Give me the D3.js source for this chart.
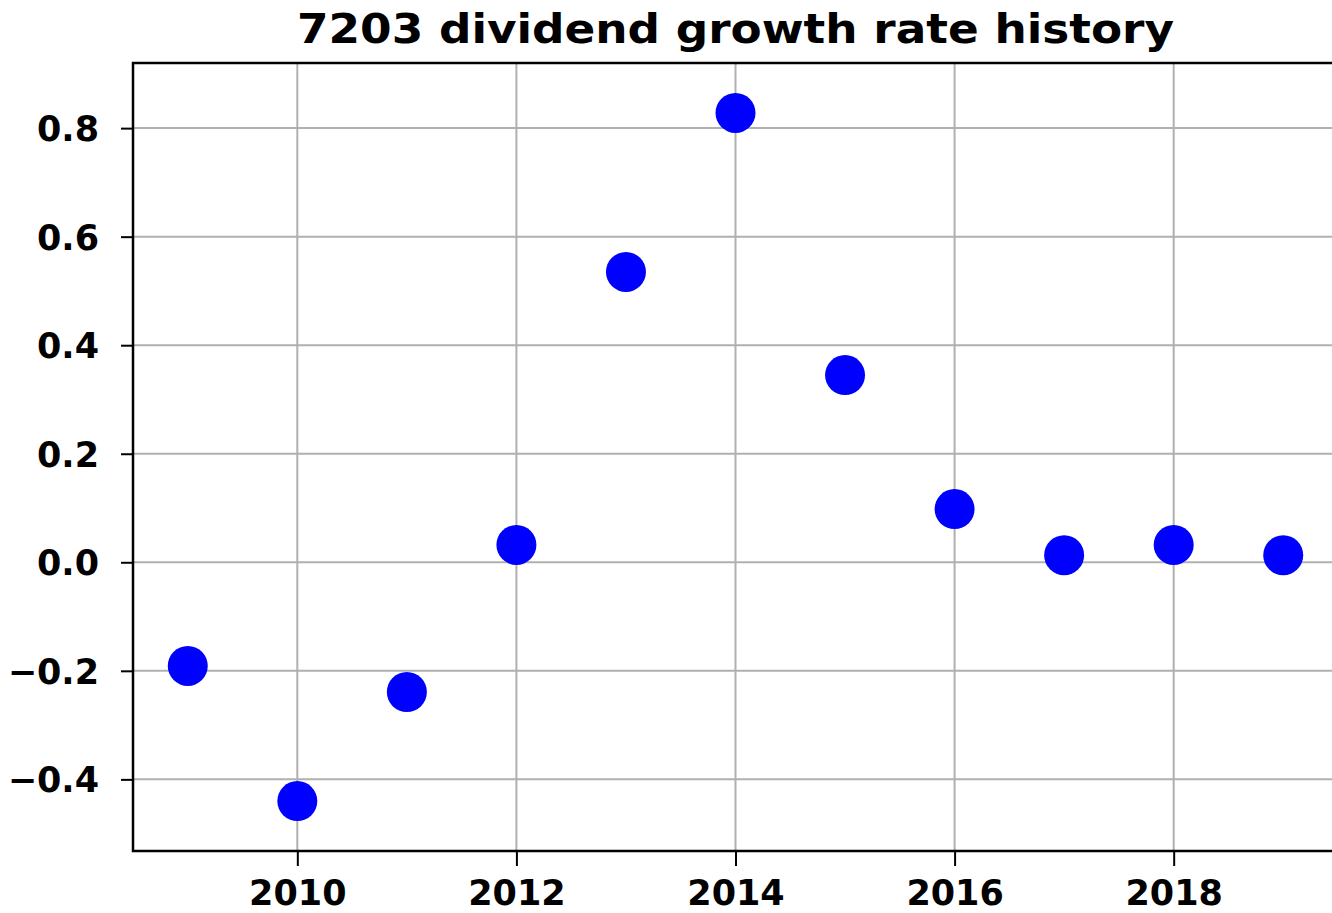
<!DOCTYPE html>
<html>
<head>
<meta charset="utf-8">
<script src="https://cdn.jsdelivr.net/npm/d3@7"></script>
<style>
  body { margin: 0; background: #fff; }
  text { font-family: "DejaVu Sans", sans-serif; font-weight: bold; fill: #000; }
</style>
</head>
<body>
<div id="chart"></div>
<script>
// Data
const years = [2009, 2010, 2011, 2012, 2013, 2014, 2015, 2016, 2017, 2018, 2019];
const growth = [-0.191, -0.44, -0.239, 0.032, 0.535, 0.828, 0.345, 0.098, 0.013, 0.032, 0.013];
const xTicks = [2010, 2012, 2014, 2016, 2018];
const yTicks = [-0.4, -0.2, 0.0, 0.2, 0.4, 0.6, 0.8];
const titleText = "7203 dividend growth rate history";

// Chart Params
const svgWidth = 1332;
const svgHeight = 913;
const margin = { top: 63, right: -6, bottom: 62, left: 133 };
const width = svgWidth - margin.left - margin.right;
const height = svgHeight - margin.top - margin.bottom;
const circleRad = 20;

const svg = d3.select("#chart")
  .append("svg")
  .attr("width", svgWidth)
  .attr("height", svgHeight);

const chartGroup = svg.append("g")
  .attr("transform", `translate(${margin.left}, ${margin.top})`);

const xScale = d3.scaleLinear().domain([2008.5, 2019.5]).range([0, width]);
const yScale = d3.scaleLinear().domain([-0.532, 0.920]).range([height, 0]);

// grid lines
chartGroup.append("g")
  .selectAll("line")
  .data(xTicks)
  .enter()
  .append("line")
  .attr("x1", d => xScale(d)).attr("x2", d => xScale(d))
  .attr("y1", 0).attr("y2", height)
  .attr("stroke", "#b0b0b0").attr("stroke-width", 2);

chartGroup.append("g")
  .selectAll("line")
  .data(yTicks)
  .enter()
  .append("line")
  .attr("x1", 0).attr("x2", width)
  .attr("y1", d => yScale(d)).attr("y2", d => yScale(d))
  .attr("stroke", "#b0b0b0").attr("stroke-width", 2);

// axes
const fmtY = d => d3.format(".1f")(d).replace("-", "\u2212");
const bottomAxis = d3.axisBottom(xScale).tickValues(xTicks).tickFormat(d3.format("d"))
  .tickSizeInner(15).tickSizeOuter(0).tickPadding(12);
const leftAxis = d3.axisLeft(yScale).tickValues(yTicks).tickFormat(fmtY)
  .tickSizeInner(12).tickSizeOuter(0).tickPadding(22);

const xAxis = chartGroup.append("g")
  .attr("transform", `translate(0, ${height})`)
  .call(bottomAxis);
const yAxis = chartGroup.append("g").call(leftAxis);

[xAxis, yAxis].forEach(ax => {
  ax.select(".domain").remove();
  ax.selectAll(".tick line").attr("stroke", "#000").attr("stroke-width", 2);
  ax.selectAll(".tick text")
    .attr("font-family", "DejaVu Sans")
    .attr("font-weight", "bold")
    .attr("font-size", 35)
    .attr("fill", "#000");
});
xAxis.selectAll(".tick text").attr("dy", "0.76em");
yAxis.selectAll(".tick text").attr("dy", "0.36em");

// frame (spines)
chartGroup.append("rect")
  .attr("x", 0).attr("y", 0)
  .attr("width", width).attr("height", height)
  .attr("fill", "none")
  .attr("stroke", "#000")
  .attr("stroke-width", 2.5);

// points
chartGroup.selectAll("circle")
  .data(years)
  .enter()
  .append("circle")
  .attr("cx", d => xScale(d))
  .attr("cy", (d, i) => yScale(growth[i]))
  .attr("r", circleRad)
  .attr("fill", "#0000ff");

// title
svg.append("text")
  .attr("x", margin.left + width / 2)
  .attr("y", 43)
  .attr("text-anchor", "middle")
  .attr("font-size", 40)
  .attr("textLength", 877)
  .attr("lengthAdjust", "spacingAndGlyphs")
  .text(titleText);
</script>
</body>
</html>
